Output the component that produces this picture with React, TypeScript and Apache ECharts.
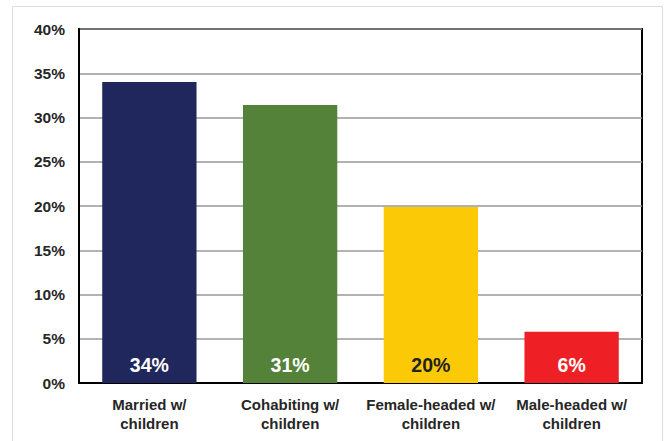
import React, { useEffect, useRef } from "react";
import * as echarts from "echarts";

const categories = [
  "Married w/\nchildren",
  "Cohabiting w/\nchildren",
  "Female-headed w/\nchildren",
  "Male-headed w/\nchildren",
];
const values = [34.0, 31.4, 19.9, 5.8];
const barColors = ["#1F275C", "#548238", "#FCC907", "#EE1F25"];
const labelColors = ["#FFFFFF", "#FFFFFF", "#222222", "#FFFFFF"];

const FONT = "Liberation Sans, Arial, sans-serif";

export default function App() {
  const ref = useRef<HTMLDivElement>(null);
  useEffect(() => {
    if (!ref.current) return;
    const chart = echarts.init(ref.current, undefined, { renderer: "svg" });
    chart.setOption({
      animation: false,
      backgroundColor: "#FFFFFF",
      graphic: [
        {
          type: "rect",
          shape: { x: 12.5, y: 6.5, width: 650, height: 450 },
          style: { fill: "none", stroke: "#DDDDDD", lineWidth: 1 },
          silent: true,
          z: -10,
        },
      ],
      grid: {
        left: 79,
        top: 29,
        right: 23,
        bottom: 58,
        show: true,
        borderColor: "#000000",
        borderWidth: 2,
        backgroundColor: "transparent",
      },
      xAxis: {
        type: "category",
        data: categories,
        axisLine: { show: true, lineStyle: { color: "#000000", width: 2 } },
        axisTick: { show: false },
        axisLabel: {
          fontFamily: FONT,
          fontSize: 15,
          fontWeight: "bold",
          color: "#262626",
          lineHeight: 19,
          margin: 12,
          interval: 0,
        },
      },
      yAxis: {
        type: "value",
        min: 0,
        max: 40,
        interval: 5,
        axisLine: { show: true, lineStyle: { color: "#000000", width: 2 } },
        axisTick: { show: false },
        axisLabel: {
          formatter: "{value}%",
          fontFamily: FONT,
          fontSize: 15.5,
          fontWeight: "bold",
          color: "#262626",
          margin: 14,
        },
        splitLine: { show: true, lineStyle: { color: "#999999", width: 1.5 } },
      },
      series: [
        {
          type: "bar",
          barWidth: "67%",
          data: values.map((v, i) => ({
            value: v,
            itemStyle: { color: barColors[i] },
            label: { color: labelColors[i] },
          })),
          label: {
            show: true,
            position: "insideBottom",
            distance: 8,
            fontFamily: FONT,
            fontSize: 19.5,
            fontWeight: "bold",
            formatter: (p: any) => Math.round(p.value) + "%",
          },
        },
      ],
    });
    return () => chart.dispose();
  }, []);
  return (
    <div
      ref={ref}
      style={{ position: "absolute", left: 0, top: 0, width: 665, height: 441 }}
    />
  );
}
